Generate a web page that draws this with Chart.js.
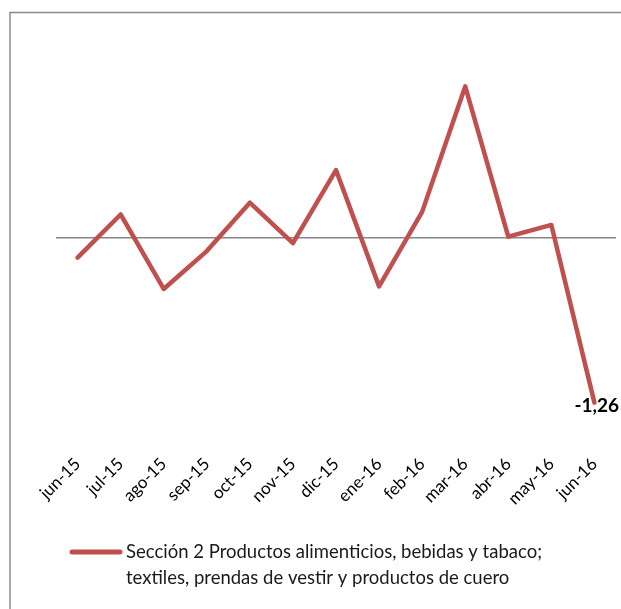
<!DOCTYPE html>
<html>
<head>
<meta charset="utf-8">
<script src="https://cdn.jsdelivr.net/npm/chart.js@4"></script>
<style>
  html, body { margin: 0; padding: 0; background: #fff; }
  #wrap { width: 621px; height: 609px; }
</style>
</head>
<body>
<div id="wrap"><canvas id="chart" width="621" height="609"></canvas></div>
<script>
const months = ["jun-15", "jul-15", "ago-15", "sep-15", "oct-15", "nov-15", "dic-15",
  "ene-16", "feb-16", "mar-16", "abr-16", "may-16", "jun-16"];
const values = [-0.15, 0.18, -0.39, -0.10, 0.27, -0.04, 0.52, -0.37, 0.20, 1.16, 0.01, 0.10, -1.26];
const legendLines = ["Sección 2 Productos alimenticios, bebidas y tabaco;",
  "textiles, prendas de vestir y productos de cuero"];
const lineColor = "#C0504D";

// marco gris (solo lados izquierdo y superior visibles)
const frame = {
  id: "frame",
  beforeDraw(chart) {
    const ctx = chart.ctx;
    ctx.save();
    ctx.fillStyle = "#fff";
    ctx.fillRect(0, 0, chart.width, chart.height);
    ctx.strokeStyle = "#8a8a8a";
    ctx.lineWidth = 1.5;
    ctx.beginPath();
    ctx.moveTo(10, chart.height);
    ctx.lineTo(10, 12.5);
    ctx.lineTo(chart.width, 12.5);
    ctx.stroke();
    ctx.restore();
  }
};

// etiqueta del último valor
const lastLabel = {
  id: "lastLabel",
  afterDatasetsDraw(chart) {
    const meta = chart.getDatasetMeta(0);
    const i = values.length - 1;
    const pt = meta.data[i];
    const ctx = chart.ctx;
    ctx.save();
    ctx.font = "bold 19px Lato";
    ctx.fillStyle = "#000";
    ctx.textAlign = "left";
    ctx.textBaseline = "middle";
    ctx.fillText(values[i].toFixed(2).replace(".", ","), pt.x - 20, pt.y + 3);
    ctx.restore();
  }
};

// leyenda en dos líneas
const legendBox = {
  id: "legendBox",
  afterDraw(chart) {
    const ctx = chart.ctx;
    ctx.save();
    ctx.strokeStyle = lineColor;
    ctx.lineWidth = 5;
    ctx.lineCap = "round";
    ctx.beginPath();
    ctx.moveTo(72, 552);
    ctx.lineTo(120, 552);
    ctx.stroke();
    ctx.font = "18.5px Lato";
    ctx.fillStyle = "#1a1a1a";
    ctx.textBaseline = "middle";
    legendLines.forEach((t, k) => ctx.fillText(t, 126, 552 + k * 26));
    ctx.restore();
  }
};

new Chart(document.getElementById("chart"), {
  type: "line",
  data: {
    labels: months,
    datasets: [{
      label: legendLines.join(" "),
      data: values,
      borderColor: lineColor,
      backgroundColor: lineColor,
      borderWidth: 4.5,
      pointRadius: 0,
      tension: 0,
      borderCapStyle: "round",
      borderJoinStyle: "round"
    }]
  },
  options: {
    responsive: false,
    animation: false,
    layout: { padding: { left: 56, right: 4, top: 42, bottom: 65 } },
    plugins: { legend: { display: false }, tooltip: { enabled: false } },
    scales: {
      x: {
        offset: true,
        grid: { display: false },
        border: { display: false },
        ticks: { color: "#000", font: { family: "Lato", size: 17 }, maxRotation: 45, minRotation: 45, padding: 12 },
        afterFit(scale) { scale.height = 110; }
      },
      y: {
        min: -1.5,
        max: 1.5,
        border: { display: false },
        ticks: { display: false, stepSize: 0.5 },
        grid: {
          drawTicks: false,
          lineWidth: 1.5,
          color: c => (c.tick && c.tick.value === 0 ? "#868686" : "rgba(0,0,0,0)")
        },
        afterFit(scale) { scale.width = 0; }
      }
    }
  },
  plugins: [frame, lastLabel, legendBox]
});
</script>
</body>
</html>
